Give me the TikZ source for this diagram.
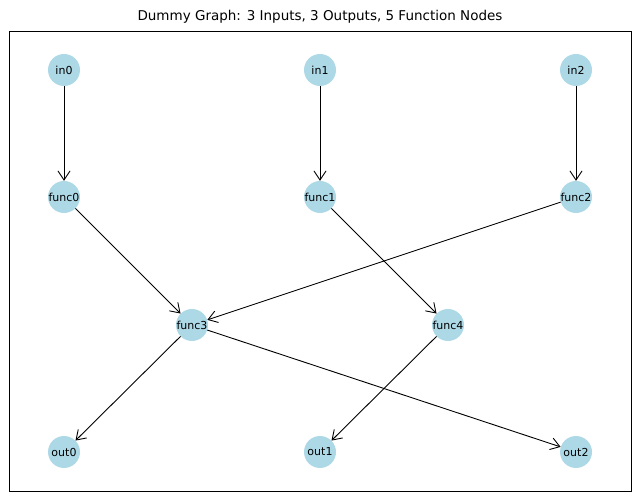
\documentclass[tikz,border=0pt]{standalone}
\usepackage{fontspec}
\setmainfont{DejaVu Sans}
\usetikzlibrary{arrows.meta}
\begin{document}
\begin{tikzpicture}[x=1pt,y=-1pt,
  nd/.style={circle,fill={rgb,255:red,173;green,216;blue,230},minimum size=32pt,inner sep=0pt,font=\fontsize{11}{13}\selectfont},
  ed/.style={draw=black,line width=0.9pt,-{Straight Barb[length=9pt,width=12pt,line width=0.9pt]},shorten >=0pt}]
\useasboundingbox (0,0) rectangle (640,502);
\draw[line width=0.8pt] (9,31) rectangle (631,491);
\node[font=\fontsize{13.5}{16}\selectfont] (title) at (320,17) {Dummy Graph: 3 Inputs, 3 Outputs, 5 Function Nodes};
\node[nd] (in0) at (64,70) {in0};
\node[nd] (in1) at (320,70) {in1};
\node[nd] (in2) at (576,70) {in2};
\node[nd] (func0) at (64,197) {func0};
\node[nd] (func1) at (320,197) {func1};
\node[nd] (func2) at (576,197) {func2};
\node[nd] (func3) at (192,325) {func3};
\node[nd] (func4) at (448,325) {func4};
\node[nd] (out0) at (64,452) {out0};
\node[nd] (out1) at (320,452) {out1};
\node[nd] (out2) at (576,452) {out2};
\draw[ed] (in0) -- (func0);
\draw[ed] (in1) -- (func1);
\draw[ed] (in2) -- (func2);
\draw[ed] (func0) -- (func3);
\draw[ed] (func1) -- (func4);
\draw[ed] (func2) -- (func3);
\draw[ed] (func3) -- (out0);
\draw[ed] (func3) -- (out2);
\draw[ed] (func4) -- (out1);
\end{tikzpicture}
\end{document}
